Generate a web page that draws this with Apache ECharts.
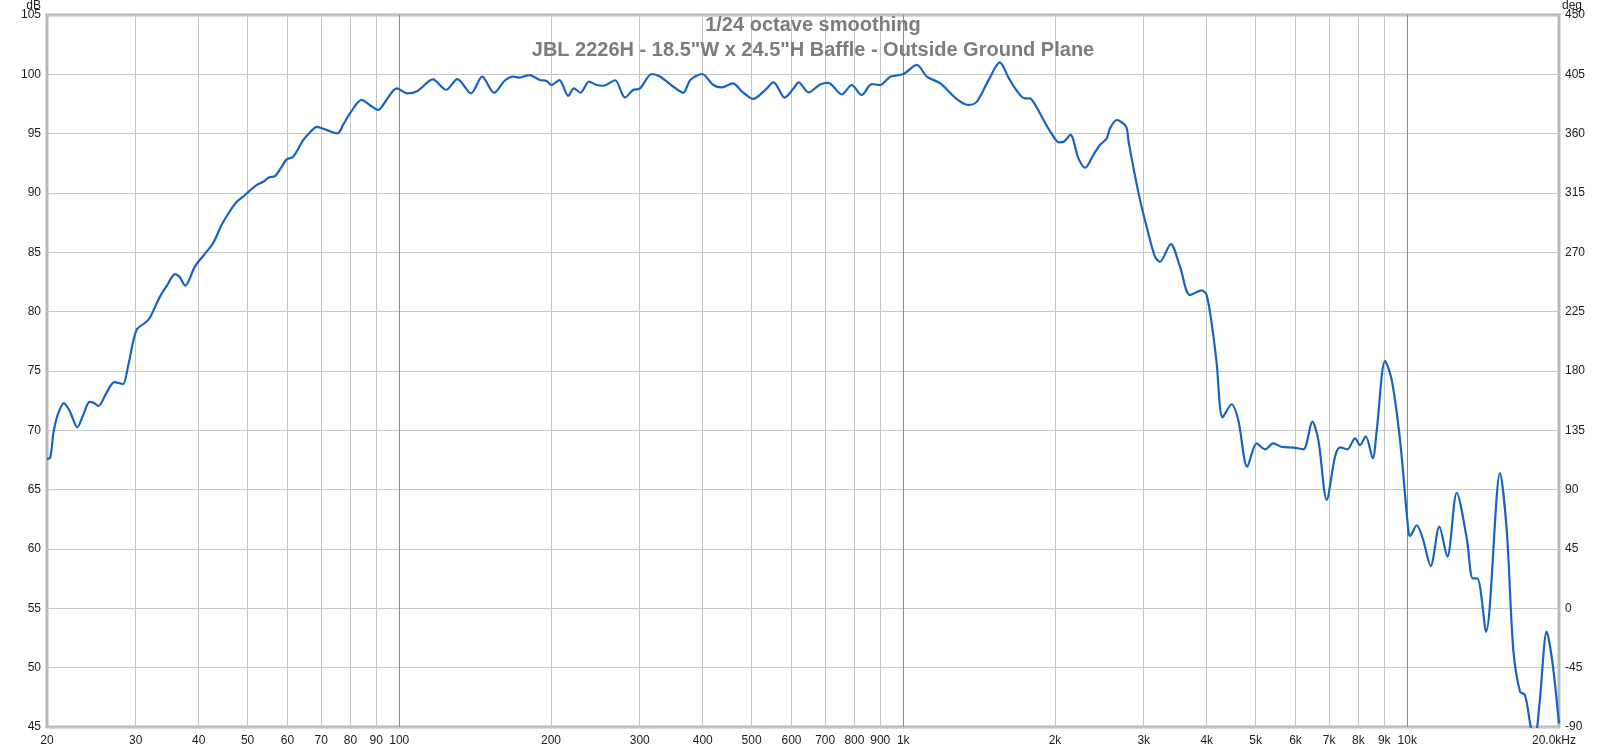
<!DOCTYPE html>
<html>
<head>
<meta charset="utf-8">
<script src="https://cdn.jsdelivr.net/npm/echarts@6/dist/echarts.min.js"></script>
<style>
html,body{margin:0;padding:0;background:#fff;}
#chart{width:1617px;height:749px;}
</style>
</head>
<body>
<div id="chart"></div>
<script>
// ---- data ----
const FREQ_HZ = [
  20, 20.3, 20.6, 21.0, 21.6, 22.2, 22.97, 23.6, 24.3, 24.8, 25.3, 26.2, 27.2, 27.7, 28.3, 29.0,
  30.1, 31.5, 32.1, 33.5, 34.6, 35.9, 36.7, 37.6, 39.3, 41.0, 42.7, 44.4, 46.0, 47.6, 49.0,
  50.5, 52.1, 53.7, 55.2, 56.7, 58.2, 59.8, 61.6, 64.5, 66.5, 68.6, 71.8, 75.4, 77.5, 79.8,
  84.2, 87.5, 90.8, 94.3, 98.8, 103.8, 108.7, 116.6, 123.8, 130.4, 138.8, 146, 154.2, 162.2,
  168.5, 173.2, 181.2, 190.2, 196, 200.6, 207.8, 216.4, 222, 228.8, 238, 246.6, 254, 268,
  280.4, 291, 300.4, 317, 329.6, 347.6, 365.8, 378, 398.6, 420, 436.6, 459, 478.6, 503.4,
  530, 553, 581.6, 606, 620, 648.6, 684, 710, 755, 790, 827, 866, 900, 942, 1000, 1064,
  1114, 1184, 1279, 1348, 1400, 1480, 1554, 1620, 1684, 1740, 1780, 1820, 1898, 1959, 2036,
  2082, 2146, 2226, 2296, 2382, 2456, 2532, 2572, 2652, 2766, 2800, 2860, 2950, 3040, 3158,
  3230, 3394, 3540, 3706, 3908, 4000, 4122, 4186, 4302, 4482, 4620, 4814, 5026, 5220, 5422,
  5636, 5942, 6220, 6480, 6660, 6920, 7188, 7354, 7604, 7876, 8058, 8270, 8540, 8698, 9034,
  9314, 9674, 10046, 10124, 10440, 10730, 11130, 11576, 12008, 12534, 13122, 13488, 13772,
  14332, 15274, 15750, 16232, 16738, 17124, 17600, 17900, 18300, 18910, 19400, 20000
];
const SPL_DB = [
  67.6, 67.7, 69.8, 71.3, 72.3, 71.6, 70.25, 71.3, 72.4, 72.3, 72.05, 73.1, 74.07, 74.0, 73.88, 75.5,
  78.45, 79.15, 79.6, 81.26, 82.2, 83.17, 82.9, 82.19, 83.79, 84.8, 85.76, 87.3, 88.4, 89.27, 89.69,
  90.2, 90.67, 90.95, 91.32, 91.43, 92.1, 92.83, 93.06, 94.47, 95.1, 95.58, 95.3, 95.02, 95.8, 96.7,
  97.84, 97.4, 97.0, 97.84, 98.82, 98.4, 98.6, 99.57, 98.7, 99.6, 98.4, 99.8, 98.45, 99.5,
  99.8, 99.72, 99.94, 99.52, 99.44, 99.1, 99.52, 98.2, 98.82, 98.45, 99.38, 99.1, 99.04, 99.5,
  98.05, 98.68, 98.82, 100.03, 99.8, 99.04, 98.45, 99.52, 100.03, 99.1, 98.9, 99.24, 98.55, 97.93,
  98.6, 99.32, 98.04, 98.82, 99.32, 98.48, 99.15, 99.28, 98.3, 99.1, 98.26, 99.18, 99.1, 99.8, 100.03, 100.79,
  99.8, 99.24, 97.9, 97.42, 97.7, 99.6, 101.0, 99.66, 98.55, 97.98, 97.98, 97.56, 96.15, 95.16, 94.27,
  94.32, 94.89, 92.92, 92.13, 93.2, 94.04, 94.6, 95.45, 96.15, 95.6, 94.3, 92.2, 89.4, 87.16, 84.63,
  84.2, 85.7, 83.8, 81.4, 81.8, 81.4, 78.0, 75.65, 71.1, 72.2, 70.87, 66.93, 68.9, 68.4, 68.9,
  68.6, 68.55, 68.4, 70.73, 69.2, 64.13, 67.78, 68.57, 68.4, 69.33, 68.76, 69.5, 67.65, 70.0, 75.86,
  74.24, 69.18, 61.6, 61.1, 62.0, 60.9, 58.57, 61.88, 59.35, 64.74, 60.9, 57.53, 57.53,
  53.03, 66.4, 61.6, 51.5, 47.97, 47.7, 44.9, 44.0, 47.0, 53.03, 50.5, 45.3
];
const GRID_FREQS = [30, 40, 50, 60, 70, 80, 90, 100, 200, 300, 400, 500, 600, 700, 800, 900, 1000,
  2000, 3000, 4000, 5000, 6000, 7000, 8000, 9000, 10000];
const MAJOR_FREQS = [100, 1000, 10000];
const X_TICK_VALUES = [20, 30, 40, 50, 60, 70, 80, 90, 100, 200, 300, 400, 500, 600, 700, 800, 900, 1000,
  2000, 3000, 4000, 5000, 6000, 7000, 8000, 9000, 10000, 20000];
const X_TICK_LABELS = ['20', '30', '40', '50', '60', '70', '80', '90', '100', '200', '300', '400', '500',
  '600', '700', '800', '900', '1k', '2k', '3k', '4k', '5k', '6k', '7k', '8k', '9k', '10k', '20.0kHz'];
const TITLE_LINES = ['1/24 octave smoothing', 'JBL 2226H - 18.5"W x 24.5"H Baffle - Outside Ground Plane'];

// ---- chart ----
const chart = echarts.init(document.getElementById('chart'), null, {renderer: 'canvas'});
const FONT = '"Liberation Sans", Arial, sans-serif';
function tickLabel(v) {
  let best = 0, bd = Infinity;
  for (let i = 0; i < X_TICK_VALUES.length; i++) {
    const d = Math.abs(Math.log(v / X_TICK_VALUES[i]));
    if (d < bd) { bd = d; best = i; }
  }
  const s = X_TICK_LABELS[best];
  return best === X_TICK_VALUES.length - 1 ? '{last|' + s + '}' : s;
}
const option = {
  animation: false,
  backgroundColor: '#ffffff',
  title: {
    text: TITLE_LINES.join('\n'),
    left: 808, top: 8, textAlign: 'center',
    textStyle: {color: '#7c7c7c', fontFamily: FONT, fontWeight: 'bold', fontSize: 20, lineHeight: 25}
  },
  grid: {
    left: 47, right: 58, top: 15, bottom: 22,
    show: true, borderColor: '#b8b8b8', borderWidth: 3, backgroundColor: 'transparent',
    containLabel: false, outerBoundsMode: 'none'
  },
  xAxis: {
    type: 'log', logBase: 10, min: 20, max: 20000,
    axisLine: {show: false}, axisTick: {show: false}, splitLine: {show: false}, minorSplitLine: {show: false},
    axisLabel: {
      customValues: X_TICK_VALUES,
      formatter: tickLabel,
      color: '#1a1a1a', fontFamily: FONT, fontSize: 12, margin: 8,
      showMinLabel: true, showMaxLabel: true, hideOverlap: false,
      rich: {last: {color: '#1a1a1a', fontFamily: FONT, fontSize: 12, padding: [0, 10, 0, 0]}}
    }
  },
  yAxis: [{
    type: 'value', min: 45, max: 105, interval: 5, position: 'left',
    name: 'dB', nameLocation: 'end', nameGap: 3, nameMoveOverlap: false,
    nameTextStyle: {color: '#1a1a1a', fontFamily: FONT, fontSize: 12, align: 'right', padding: [0, 6, 0, 0]},
    axisLine: {show: false}, axisTick: {show: false},
    axisLabel: {color: '#1a1a1a', fontFamily: FONT, fontSize: 12, margin: 6},
    splitLine: {show: true, lineStyle: {color: '#c8c8c8', width: 1}}
  }, {
    type: 'value', min: -90, max: 450, interval: 45, position: 'right',
    name: 'deg', nameLocation: 'end', nameGap: 3, nameMoveOverlap: false,
    nameTextStyle: {color: '#1a1a1a', fontFamily: FONT, fontSize: 12, align: 'left', padding: [0, 0, 0, 3]},
    axisLine: {show: false}, axisTick: {show: false},
    axisLabel: {color: '#1a1a1a', fontFamily: FONT, fontSize: 12, margin: 6},
    splitLine: {show: false}
  }],
  series: [{
    type: 'line', name: 'grid', data: [], z: 1, silent: true,
    markLine: {
      silent: true, symbol: ['none', 'none'], z: 1, animation: false,
      label: {show: false},
      emphasis: {disabled: true},
      data: GRID_FREQS.map(f => ({
        xAxis: f,
        lineStyle: {color: MAJOR_FREQS.includes(f) ? '#8a8a8a' : '#c4c4c4', width: 1, type: 'solid'}
      }))
    }
  }, {
    type: 'line', name: 'SPL', z: 3,
    xAxisIndex: 0, yAxisIndex: 0,
    data: FREQ_HZ.map((f, i) => [f, SPL_DB[i]]),
    showSymbol: false, symbol: 'none', smooth: 0.3, clip: true,
    lineStyle: {color: '#1565c0', width: 2.2}
  }]
};
chart.setOption(option);
</script>
</body>
</html>
